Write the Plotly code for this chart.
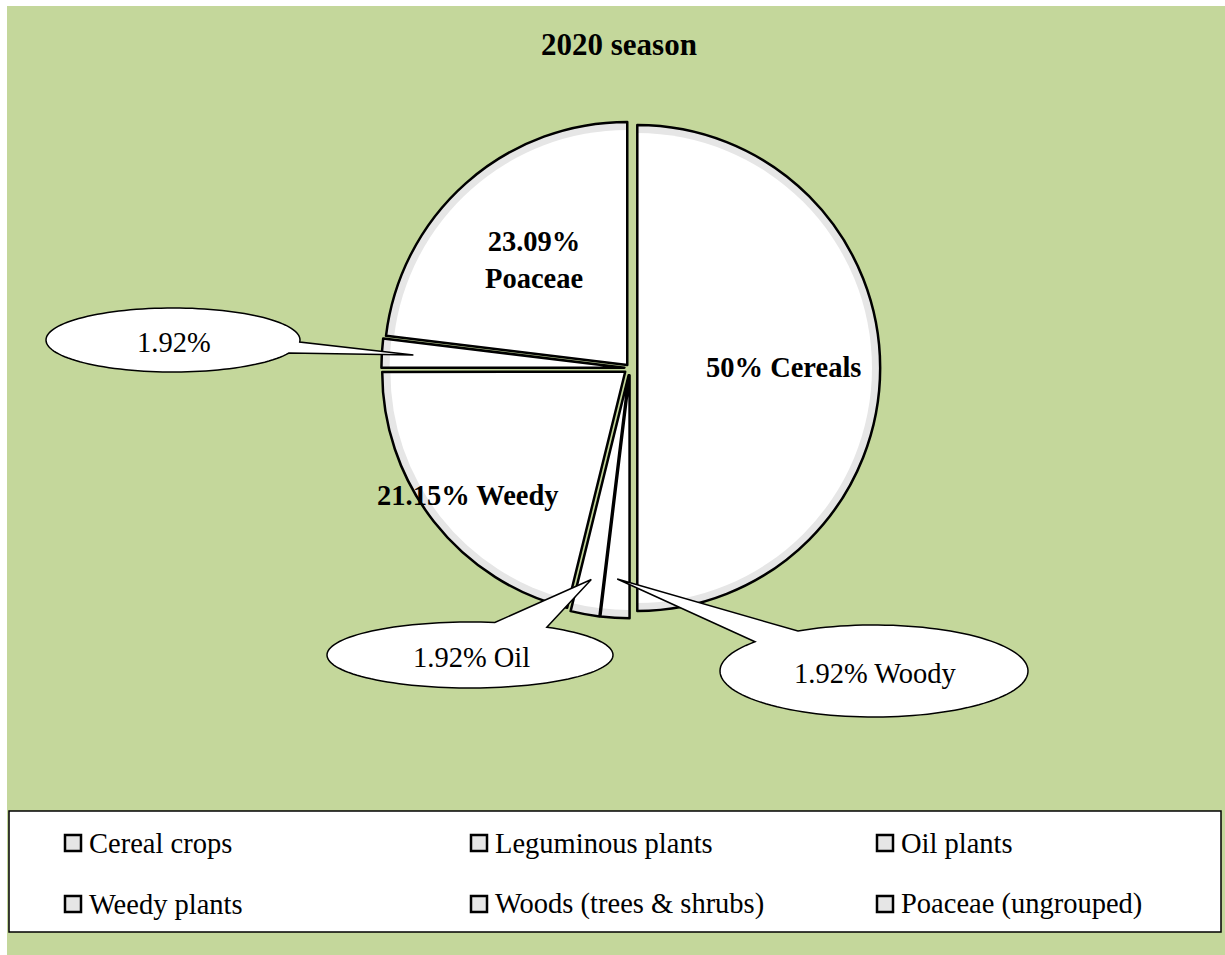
import math
import plotly.graph_objects as go

# ---- data -------------------------------------------------------------
categories = ["Cereal crops", "Leguminous plants", "Oil plants",
              "Weedy plants", "Woods (trees & shrubs)", "Poaceae (ungrouped)"]
shares = [50, 1.92, 1.92, 21.15, 1.92, 23.09]          # percent of species
title_text = "2020 season"

# captions written on the large slices (slice index, caption template)
slice_captions = [(0, "{v:g}% Cereals"), (5, "{v:g}%<br>Poaceae"), (3, "{v:g}% Weedy")]
# captions shown in speech bubbles (slice index, caption template)
bubble_captions = [(4, "{v:g}%"), (2, "{v:g}% Oil"), (1, "{v:g}% Woody")]

# ---- styling / layout -------------------------------------------------
W, H = 1225, 955
FONT = "Liberation Serif, Times New Roman, serif"
GREEN = "#c4d79b"
BEVEL = "#e6e6e6"
pulls = [0.03, 0.03, 0.03, 0.025, 0.023, 0.017]
CX, CY, R = 630, 368, 243          # pie centre and radius in pixels
BEVEL_W = 8                        # width of the grey rim inside each slice

caption_radius = {0: 0.60, 5: 0.576, 3: 0.824}
# bubble: centre, half-axes, tail base angles on the ellipse, tail tip radius
bubble_geom = {
    4: dict(c=(173, 340), rx=127, ry=32, base=(3.6, 24.0), tip=0.87),
    2: dict(c=(470, 655), rx=143, ry=33, base=(-80.0, -57.5), tip=0.855),
    1: dict(c=(874, 671), rx=154, ry=46, base=(-140.6, -119.6), tip=0.84),
}


def px(x, y):
    """pixel position -> paper coordinates"""
    return x / W, 1 - y / H


def domain_for(radius):
    half = radius * (1 + max(pulls))
    x0, y0 = px(CX - half, CY + half)
    x1, y1 = px(CX + half, CY - half)
    return dict(x=[x0, x1], y=[y0, y1])


total = sum(shares)
mid_angle = []
acc = 0.0
for v in shares:
    mid_angle.append((acc + v / 2) / total * 360.0)
    acc += v


def slice_point(i, frac):
    th = math.radians(mid_angle[i])
    r = frac * R + pulls[i] * R
    return CX + r * math.sin(th), CY - r * math.cos(th)


def text_at(x, y, text, size, bold=False, xanchor="center"):
    ax, ay = px(x, y)
    return dict(x=ax, y=ay, xref="paper", yref="paper", text=text, showarrow=False,
                xanchor=xanchor, yanchor="middle",
                font=dict(family=FONT, size=size, color="black",
                          weight="bold" if bold else "normal"))


common = dict(values=shares, labels=categories, sort=False, direction="clockwise",
              rotation=0, pull=pulls, textinfo="none", hoverinfo="skip",
              showlegend=False)

fig = go.Figure()
# grey rim, white face, black outline
fig.add_trace(go.Pie(**common, domain=domain_for(R),
                     marker=dict(colors=[BEVEL] * len(shares), line=dict(width=0))))
fig.add_trace(go.Pie(**common, domain=domain_for(R - BEVEL_W),
                     marker=dict(colors=["white"] * len(shares), line=dict(width=0))))
fig.add_trace(go.Pie(**common, domain=domain_for(R),
                     marker=dict(colors=["rgba(0,0,0,0)"] * len(shares),
                                 line=dict(color="black", width=2.5))))

shapes = []
annotations = []

# background panel
x0, y0 = px(7, H)
x1, y1 = px(W, 6)
shapes.append(dict(type="rect", xref="paper", yref="paper", x0=x0, y0=y0, x1=x1, y1=y1,
                   fillcolor=GREEN, line=dict(width=0), layer="below"))

# title
annotations.append(text_at(619, 45, title_text, 31, bold=True))

# captions on slices
for i, tmpl in slice_captions:
    x, y = slice_point(i, caption_radius[i])
    annotations.append(text_at(x, y, tmpl.format(v=shares[i]), 28.5, bold=True))

# speech bubbles
for i, tmpl in bubble_captions:
    g = bubble_geom[i]
    (ecx, ecy), rx, ry = g["c"], g["rx"], g["ry"]
    a1, a2 = g["base"]
    tipx, tipy = slice_point(i, g["tip"])
    pts = []
    n = 120
    for k in range(n + 1):
        phi = math.radians(a2 + (a1 + 360 - a2) * k / n)
        pts.append(px(ecx + rx * math.cos(phi), ecy + ry * math.sin(phi)))
    pts.append(px(tipx, tipy))
    path = "M " + " L ".join(f"{x:.5f},{y:.5f}" for x, y in pts) + " Z"
    shapes.append(dict(type="path", xref="paper", yref="paper", path=path,
                       fillcolor="white", line=dict(color="black", width=1.5)))
    annotations.append(text_at(ecx + 1, ecy + 2, tmpl.format(v=shares[i]), 28.5))

# legend panel
x0, y0 = px(9, 932)
x1, y1 = px(1221, 811)
shapes.append(dict(type="rect", xref="paper", yref="paper", x0=x0, y0=y0, x1=x1, y1=y1,
                   fillcolor="white", line=dict(color="black", width=1.5)))
col_x = [65, 471, 877]
row_y = [835, 896]
SQ = 16
for i, name in enumerate(categories):
    sx, sy = col_x[i % 3], row_y[i // 3]
    x0, y0 = px(sx, sy + SQ)
    x1, y1 = px(sx + SQ, sy)
    shapes.append(dict(type="rect", xref="paper", yref="paper", x0=x0, y0=y0, x1=x1, y1=y1,
                       fillcolor=BEVEL, line=dict(color="black", width=2.5)))
    annotations.append(text_at(sx + SQ + 6, sy + SQ / 2, name, 28.5, xanchor="left"))

fig.update_layout(width=W, height=H, margin=dict(l=0, r=0, t=0, b=0),
                  paper_bgcolor="white", plot_bgcolor="white",
                  shapes=shapes, annotations=annotations)

fig.write_html("out.html")
